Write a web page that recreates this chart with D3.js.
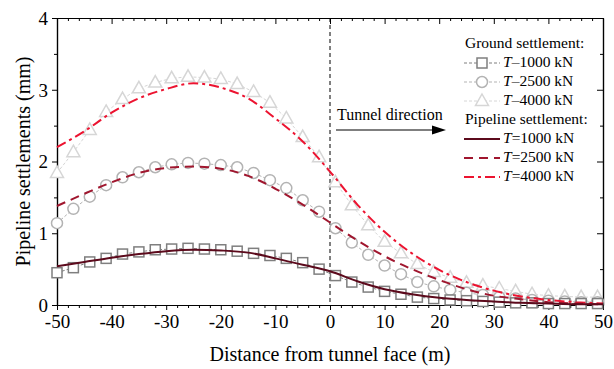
<!DOCTYPE html>
<html>
<head>
<meta charset="utf-8">
<script src="https://cdn.jsdelivr.net/npm/d3@7"></script>
<style>
  body { margin: 0; background: #fff; }
  svg text { font-family: "Liberation Serif", "Times New Roman", serif; fill: #000; }
</style>
</head>
<body>
<div id="chart-container"></div>
<script>
// distances along the pipeline (m)
const pipeX = [-50, -45, -40, -35, -30, -25, -20, -15, -10, -5, 0, 5, 10, 15, 20, 25, 30, 35, 40, 45, 50];
const pipe1000 = [0.54, 0.60, 0.66, 0.71, 0.75, 0.77, 0.76, 0.73, 0.65, 0.56, 0.47, 0.33, 0.22, 0.15, 0.10, 0.07, 0.05, 0.03, 0.02, 0.01, 0.01];
const pipe2500 = [1.38, 1.55, 1.71, 1.84, 1.91, 1.93, 1.90, 1.80, 1.62, 1.40, 1.15, 0.90, 0.68, 0.50, 0.35, 0.22, 0.13, 0.08, 0.04, 0.02, 0.01];
const pipe4000 = [2.20, 2.42, 2.68, 2.88, 3.01, 3.09, 3.03, 2.88, 2.60, 2.28, 1.86, 1.40, 1.02, 0.72, 0.49, 0.32, 0.20, 0.12, 0.07, 0.04, 0.02];

// ground settlement sample points (m)
const groundX = [-50, -47, -44, -41, -38, -35, -32, -29, -26, -23, -20, -17, -14, -11, -8, -5, -2, 1, 4, 7, 10, 13, 16, 19, 22, 25, 28, 31, 34, 37, 40, 43, 46, 49];
const ground1000 = [0.45, 0.52, 0.60, 0.65, 0.71, 0.74, 0.77, 0.78, 0.79, 0.78, 0.77, 0.75, 0.72, 0.69, 0.65, 0.59, 0.50, 0.41, 0.32, 0.25, 0.19, 0.15, 0.11, 0.09, 0.07, 0.06, 0.05, 0.04, 0.03, 0.03, 0.02, 0.02, 0.02, 0.02];
const ground2500 = [1.14, 1.34, 1.51, 1.67, 1.78, 1.85, 1.92, 1.96, 1.98, 1.97, 1.95, 1.92, 1.84, 1.74, 1.63, 1.46, 1.30, 1.07, 0.87, 0.70, 0.55, 0.43, 0.32, 0.26, 0.21, 0.17, 0.14, 0.11, 0.09, 0.07, 0.06, 0.05, 0.04, 0.04];
const ground4000 = [1.84, 2.13, 2.44, 2.69, 2.87, 3.02, 3.10, 3.16, 3.18, 3.17, 3.15, 3.08, 2.97, 2.82, 2.60, 2.34, 2.06, 1.71, 1.39, 1.11, 0.88, 0.72, 0.57, 0.46, 0.38, 0.31, 0.27, 0.23, 0.19, 0.15, 0.13, 0.12, 0.11, 0.11];

const xTicks = [-50, -40, -30, -20, -10, 0, 10, 20, 30, 40, 50];
const yTicks = [0, 1, 2, 3, 4];

const groundSeries = [
  {label: "1000", values: ground1000, color: "#7f7f7f", shape: "square"},
  {label: "2500", values: ground2500, color: "#b3b3b3", shape: "circle"},
  {label: "4000", values: ground4000, color: "#d6d6d6", shape: "triangle"}
];
const pipeSeries = [
  {label: "1000", values: pipe1000, color: "#5c0a1c", dash: null},
  {label: "2500", values: pipe2500, color: "#a0162e", dash: "9,6"},
  {label: "4000", values: pipe4000, color: "#ec1330", dash: "10,4,3,4"}
];

let margin = {top: 18, right: 11, bottom: 64, left: 57},
  fWidth = 614, fHeight = 369,
  width = fWidth - margin.left - margin.right,
  height = fHeight - margin.top - margin.bottom;

let svg = d3.select("#chart-container").append("svg")
  .attr("width", fWidth)
  .attr("height", fHeight);

let canvas = svg.append("g")
  .attr("transform", `translate(${margin.left}, ${margin.top})`);

let xScale = d3.scaleLinear().domain([-50, 50]).range([0, width]);
let yScale = d3.scaleLinear().domain([0, 4]).range([height, 0]);

let minorX = d3.range(-50, 51, 2).filter(d => { return d % 10 !== 0; });
let minorY = [0.5, 1.5, 2.5, 3.5];

// minor ticks
canvas.append("g")
  .attr("transform", `translate(0, ${height})`)
  .call(d3.axisBottom(xScale).tickValues(minorX).tickSize(3).tickSizeOuter(0).tickFormat(""));
canvas.append("g")
  .call(d3.axisBottom(xScale).tickValues(minorX).tickSize(3).tickSizeOuter(0).tickFormat(""));
canvas.append("g")
  .call(d3.axisLeft(yScale).tickValues(minorY).tickSize(3).tickSizeOuter(0).tickFormat(""));
canvas.append("g")
  .attr("transform", `translate(${width}, 0)`)
  .call(d3.axisLeft(yScale).tickValues(minorY).tickSize(3).tickSizeOuter(0).tickFormat(""));

// major ticks
let xAxis = canvas.append("g")
  .attr("transform", `translate(0, ${height})`)
  .call(d3.axisBottom(xScale).tickValues(xTicks).tickSize(5).tickSizeOuter(0).tickPadding(5).tickFormat(d => { return String(d); }));
canvas.append("g")
  .call(d3.axisBottom(xScale).tickValues(xTicks).tickSize(6).tickSizeOuter(0).tickFormat(""));
let yAxis = canvas.append("g")
  .call(d3.axisLeft(yScale).tickValues(yTicks).tickSize(5).tickSizeOuter(0).tickPadding(4).tickFormat(d => { return String(d); }));
canvas.append("g")
  .attr("transform", `translate(${width}, 0)`)
  .call(d3.axisLeft(yScale).tickValues(yTicks).tickSize(6).tickSizeOuter(0).tickFormat(""));

canvas.selectAll(".domain").attr("stroke", "#000").attr("stroke-width", 1.2);
canvas.selectAll(".tick line").attr("stroke", "#000");
xAxis.selectAll("text").style("font-size", "19px").style("font-family", "Liberation Serif");
yAxis.selectAll("text").style("font-size", "19px").style("font-family", "Liberation Serif")
  .attr("dy", "0.34em");

// tunnel face
canvas.append("line")
  .attr("x1", xScale(0)).attr("x2", xScale(0))
  .attr("y1", 0).attr("y2", height)
  .attr("stroke", "#000").attr("stroke-width", 1)
  .attr("stroke-dasharray", "4,3");

function drawMarker(g, shape, color) {
  if (shape === "square") {
    g.append("rect").attr("x", -5).attr("y", -5).attr("width", 10).attr("height", 10)
      .attr("fill", "#fff").attr("stroke", color).attr("stroke-width", 1.5);
  } else if (shape === "circle") {
    g.append("circle").attr("r", 5.5)
      .attr("fill", "#fff").attr("stroke", color).attr("stroke-width", 1.5);
  } else {
    g.append("path").attr("d", "M0,-7L6.5,4.5L-6.5,4.5Z")
      .attr("fill", "#fff").attr("stroke", color).attr("stroke-width", 1.5);
  }
}

// ground settlement
let groundLine = d3.line()
  .x((d, i) => { return xScale(groundX[i]); })
  .y(d => { return yScale(d); });

groundSeries.slice().reverse().forEach(s => {
  canvas.append("path")
    .attr("d", groundLine(s.values))
    .attr("fill", "none")
    .attr("stroke", s.color).attr("stroke-width", 1)
    .attr("stroke-dasharray", "3,2");
  canvas.selectAll(null)
    .data(s.values)
    .enter().append("g")
      .attr("transform", (d, i) => { return `translate(${xScale(groundX[i])}, ${yScale(d)})`; })
      .each(function() { drawMarker(d3.select(this), s.shape, s.color); });
});

// pipeline settlement
let pipeLine = d3.line()
  .x((d, i) => { return xScale(pipeX[i]); })
  .y(d => { return yScale(d); })
  .curve(d3.curveMonotoneX);

pipeSeries.slice().reverse().forEach(s => {
  canvas.append("path")
    .attr("d", pipeLine(s.values))
    .attr("fill", "none")
    .attr("stroke", s.color).attr("stroke-width", 2)
    .attr("stroke-dasharray", s.dash);
});

// tunnel direction arrow
svg.append("text")
  .attr("x", 337).attr("y", 120)
  .style("font-size", "16px")
  .text("Tunnel direction");
svg.append("line")
  .attr("x1", 336).attr("x2", 434).attr("y1", 130).attr("y2", 130)
  .attr("stroke", "#000").attr("stroke-width", 1.2);
svg.append("path")
  .attr("d", "M446,130L432,125.5L432,134.5Z")
  .attr("fill", "#000");

// legend
let legend = svg.append("g").attr("transform", "translate(464, 0)");
legend.append("text").attr("x", 1).attr("y", 48).style("font-size", "15.5px").text("Ground settlement:");
groundSeries.forEach((s, i) => {
  let yy = 67 + i * 19;
  legend.append("line").attr("x1", 0).attr("x2", 36).attr("y1", yy - 4).attr("y2", yy - 4)
    .attr("stroke", s.color).attr("stroke-width", 1).attr("stroke-dasharray", "3,2");
  let m = legend.append("g").attr("transform", `translate(18, ${yy - 4})`);
  drawMarker(m, s.shape, s.color);
  let t = legend.append("text").attr("x", 39).attr("y", yy).style("font-size", "15.5px");
  t.append("tspan").style("font-style", "italic").text("T");
  t.append("tspan").text("\u2013" + s.label + " kN");
});
legend.append("text").attr("x", 1).attr("y", 124).style("font-size", "15.5px").text("Pipeline settlement:");
pipeSeries.forEach((s, i) => {
  let yy = 143 + i * 19;
  legend.append("line").attr("x1", 0).attr("x2", 36).attr("y1", yy - 4).attr("y2", yy - 4)
    .attr("stroke", s.color).attr("stroke-width", 2).attr("stroke-dasharray", s.dash);
  let t = legend.append("text").attr("x", 39).attr("y", yy).style("font-size", "15.5px");
  t.append("tspan").style("font-style", "italic").text("T");
  t.append("tspan").text("=" + s.label + " kN");
});

// axis titles
svg.append("text")
  .attr("x", margin.left + width / 2).attr("y", 361)
  .attr("text-anchor", "middle")
  .style("font-size", "20px")
  .text("Distance from tunnel face (m)");
svg.append("text")
  .attr("transform", `translate(30, ${margin.top + height / 2}) rotate(-90)`)
  .attr("text-anchor", "middle")
  .style("font-size", "20px")
  .text("Pipeline settlements (mm)");
</script>
</body>
</html>
